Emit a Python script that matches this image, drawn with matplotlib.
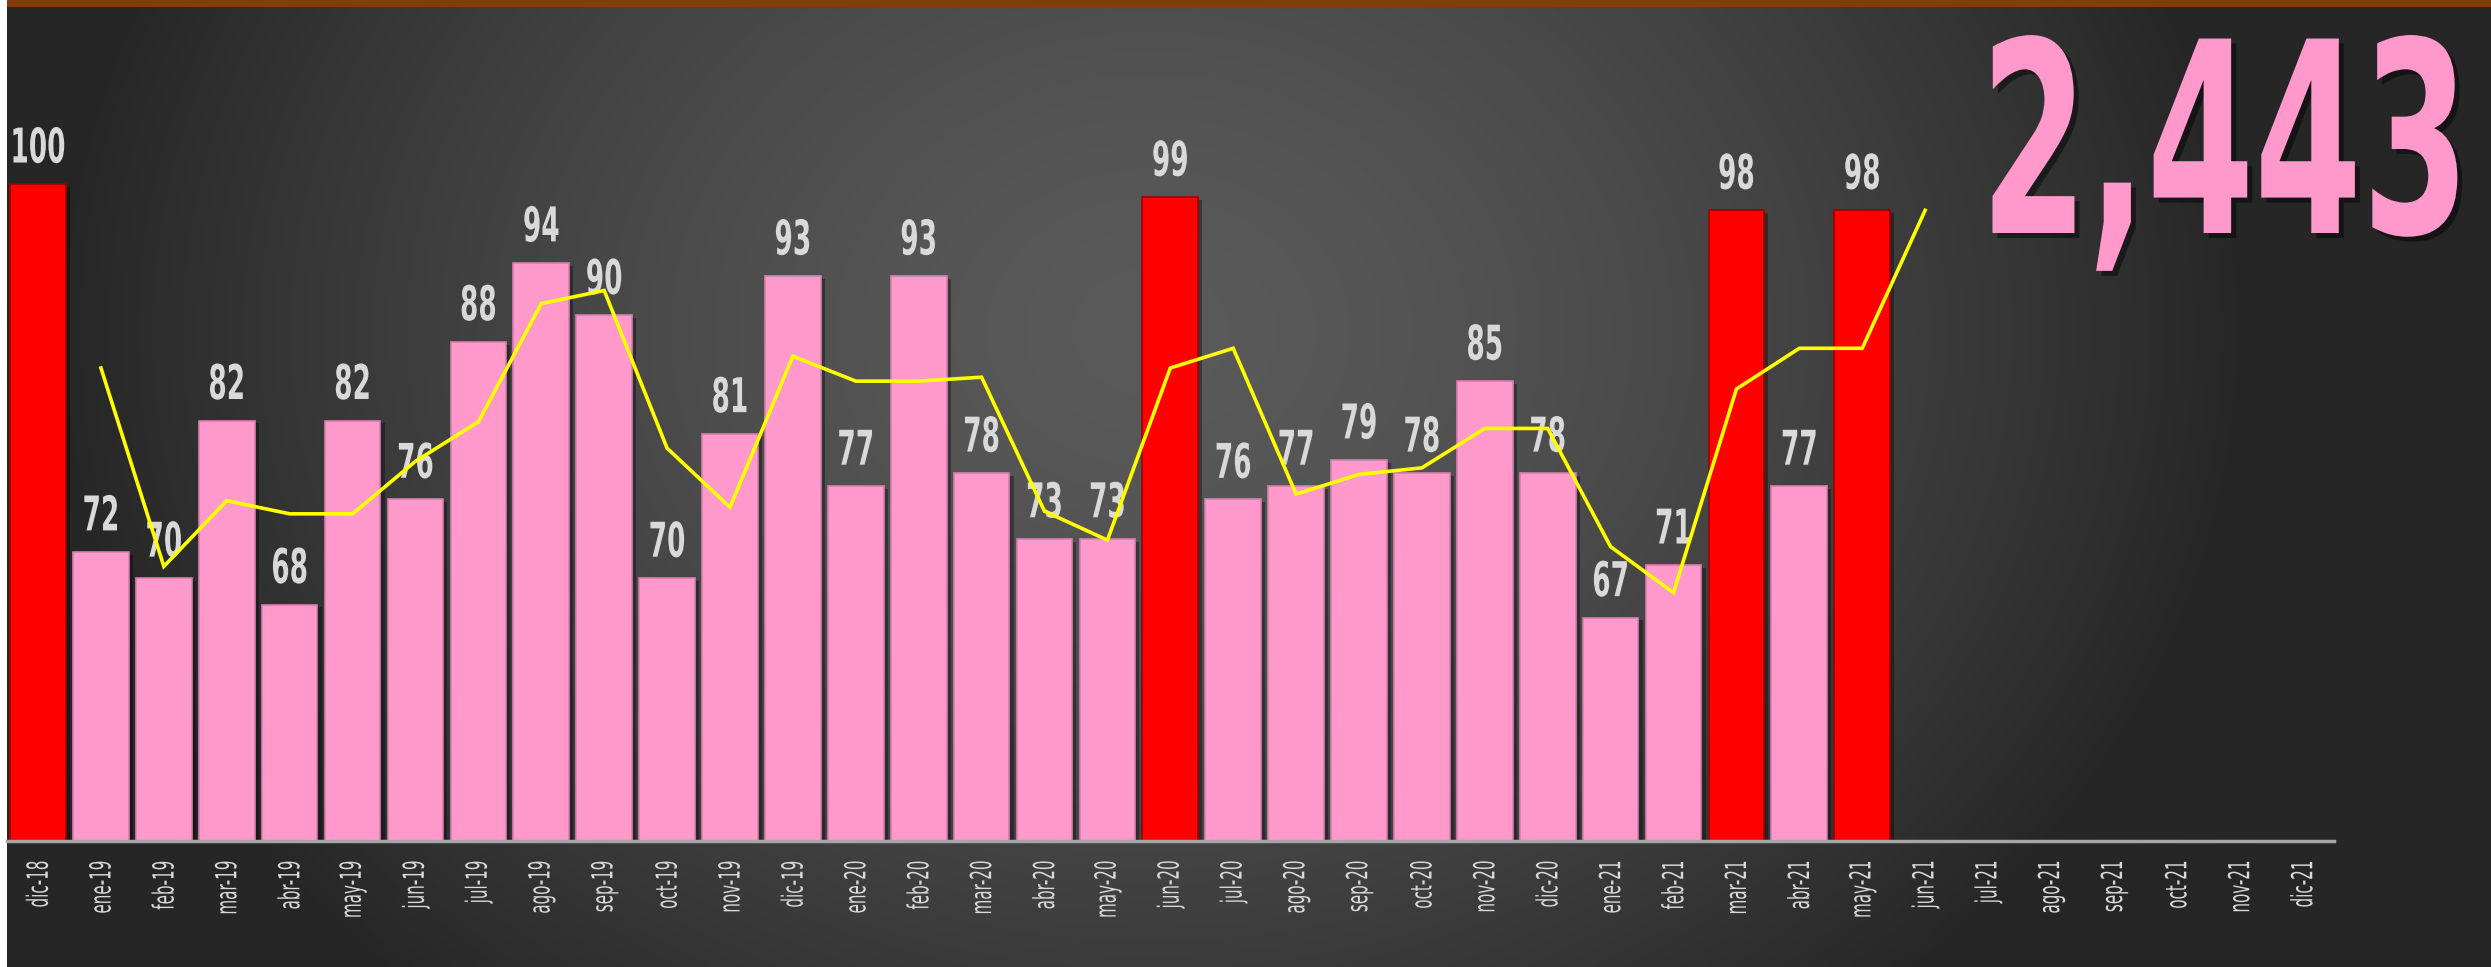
import numpy as np
import matplotlib
matplotlib.use("Agg")
import matplotlib.pyplot as plt
from matplotlib import patheffects as pe
from matplotlib.patches import Rectangle
from matplotlib.transforms import Affine2D

# ---------------- data ----------------
months = ['dic-18', 'ene-19', 'feb-19', 'mar-19', 'abr-19', 'may-19', 'jun-19', 'jul-19',
          'ago-19', 'sep-19', 'oct-19', 'nov-19', 'dic-19', 'ene-20', 'feb-20', 'mar-20',
          'abr-20', 'may-20', 'jun-20', 'jul-20', 'ago-20', 'sep-20', 'oct-20', 'nov-20',
          'dic-20', 'ene-21', 'feb-21', 'mar-21', 'abr-21', 'may-21', 'jun-21', 'jul-21',
          'ago-21', 'sep-21', 'oct-21', 'nov-21', 'dic-21']
bar_values = [100, 72, 70, 82, 68, 82, 76, 88, 94, 90, 70, 81, 93, 77, 93, 78, 73, 73,
              99, 76, 77, 79, 78, 85, 78, 67, 71, 98, 77, 98]
highlight_months = ['dic-18', 'jun-20', 'mar-21', 'may-21']
line_months = months[1:31]
line_values = [86.0, 70.9, 75.9, 74.9, 74.9, 78.9, 81.9, 90.9, 91.9, 79.9, 75.4, 86.9,
               85.0, 85.0, 85.3, 75.1, 72.9, 86.0, 87.5, 76.4, 77.9, 78.4, 81.4, 81.4,
               72.4, 68.9, 84.4, 87.5, 87.5, 98.0]
total_label = "2,443"


# -------- tall/condensed rendering of real text (vertical stretch of the glyphs) --------
class Stretch(pe.AbstractPathEffect):
    def __init__(self, sy, anchor='baseline', shadow=None):
        super().__init__((0, 0))
        self.sy = sy
        self.anchor = anchor
        self.shadow = shadow  # (dx_px, dy_px, alpha)

    def draw_path(self, renderer, gc, tpath, affine, rgbFace=None):
        if self.anchor == 'center':
            ext = tpath.get_extents()
            y0 = 0.5 * (ext.y0 + ext.y1)
        else:
            y0 = 0.0
        pre = Affine2D().translate(0, -y0).scale(1, self.sy).translate(0, y0)
        t = pre + affine
        if self.shadow is not None:
            dx, dy, a = self.shadow
            gc0 = renderer.new_gc()
            gc0.copy_properties(gc)
            gc0.set_alpha(a)
            gc0.set_foreground((0, 0, 0))
            renderer.draw_path(gc0, tpath, t + Affine2D().translate(dx, dy), (0, 0, 0))
            gc0.restore()
        renderer.draw_path(gc, tpath, t, rgbFace)


FONT = 'DejaVu Sans'
W, H = 2491, 967
fig = plt.figure(figsize=(W / 100, H / 100), dpi=100)
fig.patch.set_facecolor('white')

# ---------------- background gradient ----------------
bg = fig.add_axes([0, 0, 1, 1], zorder=-10)
yy, xx = np.mgrid[0:H:4, 0:W:4]
cx, cy, rx, ry = 1150, 330, 1100, 900
d = np.sqrt(((xx - cx) / rx) ** 2 + ((yy - cy) / ry) ** 2)
t = np.clip(1 - np.clip(d, 0, 1) ** 1.5, 0, 1)
g = (38 + 52 * t) / 255.0
bg.imshow(np.dstack([g, g, g]), extent=[0, W, H, 0], aspect='auto',
          interpolation='bilinear')
bg.set_xlim(0, W)
bg.set_ylim(H, 0)
bg.axis('off')
bg.add_patch(Rectangle((0, 0), 7, H, facecolor='white', edgecolor='none'))
bg.add_patch(Rectangle((7, 0), W - 7, 7, facecolor='#843C0C', edgecolor='none'))

# ---------------- main axes ----------------
left_px, right_px, base_px, top_px = 6.6, 2334, 841, 8
ax = fig.add_axes([left_px / W, (H - base_px) / H, (right_px - left_px) / W,
                   (base_px - top_px) / H])
ax.set_facecolor('none')
x = np.arange(len(months))
ax.set_xlim(-0.5, len(months) - 0.5)
ax.set_ylim(50, 113.4)

pink = '#FF99CC'
red = '#FF0000'
xb = np.arange(len(bar_values))
colors = [red if months[i] in highlight_months else pink for i in xb]
edges = ['#9B0000' if months[i] in highlight_months else '#D77FAE' for i in xb]
bars = ax.bar(xb, np.array(bar_values) - 50, bottom=50, width=0.885, color=colors,
              edgecolor=edges, linewidth=1.2, zorder=2)
for b in bars:
    b.set_path_effects([pe.SimplePatchShadow(offset=(3, -2), shadow_rgbFace='black',
                                             alpha=0.35), pe.Normal()])

for i, v in zip(xb, bar_values):
    ax.annotate(str(v), (i, v), xytext=(0, 15.5), textcoords='offset points',
                ha='center', va='baseline', fontsize=19, fontweight='bold',
                family=FONT, color='#D9D9D9', zorder=3,
                path_effects=[Stretch(1.816, 'baseline')])

lx = [months.index(m) for m in line_months]
ax.plot(lx, line_values, color='#FFFF00', linewidth=2.6, zorder=5,
        solid_joinstyle='miter')

for s in ['top', 'right', 'left']:
    ax.spines[s].set_visible(False)
ax.spines['bottom'].set_color('#A6A6A6')
ax.spines['bottom'].set_linewidth(2.5)
ax.set_yticks([])
ax.set_xticks(x)
ax.set_xticklabels(months, rotation=90, color='#D9D9D9', fontsize=10.9, family=FONT)
ax.tick_params(axis='x', length=0, pad=14)
for lbl in ax.get_xticklabels():
    lbl.set_path_effects([Stretch(1.92, 'center')])

fig.text(2470 / W, (H - 233) / H, total_label, ha='right', va='baseline',
         fontsize=111.4, fontweight='bold', family=FONT, color='#FF99CC', zorder=10,
         path_effects=[Stretch(1.724, 'baseline', shadow=(5, -5, 0.45))])

fig.savefig('out.png', dpi=100, facecolor=fig.get_facecolor())
